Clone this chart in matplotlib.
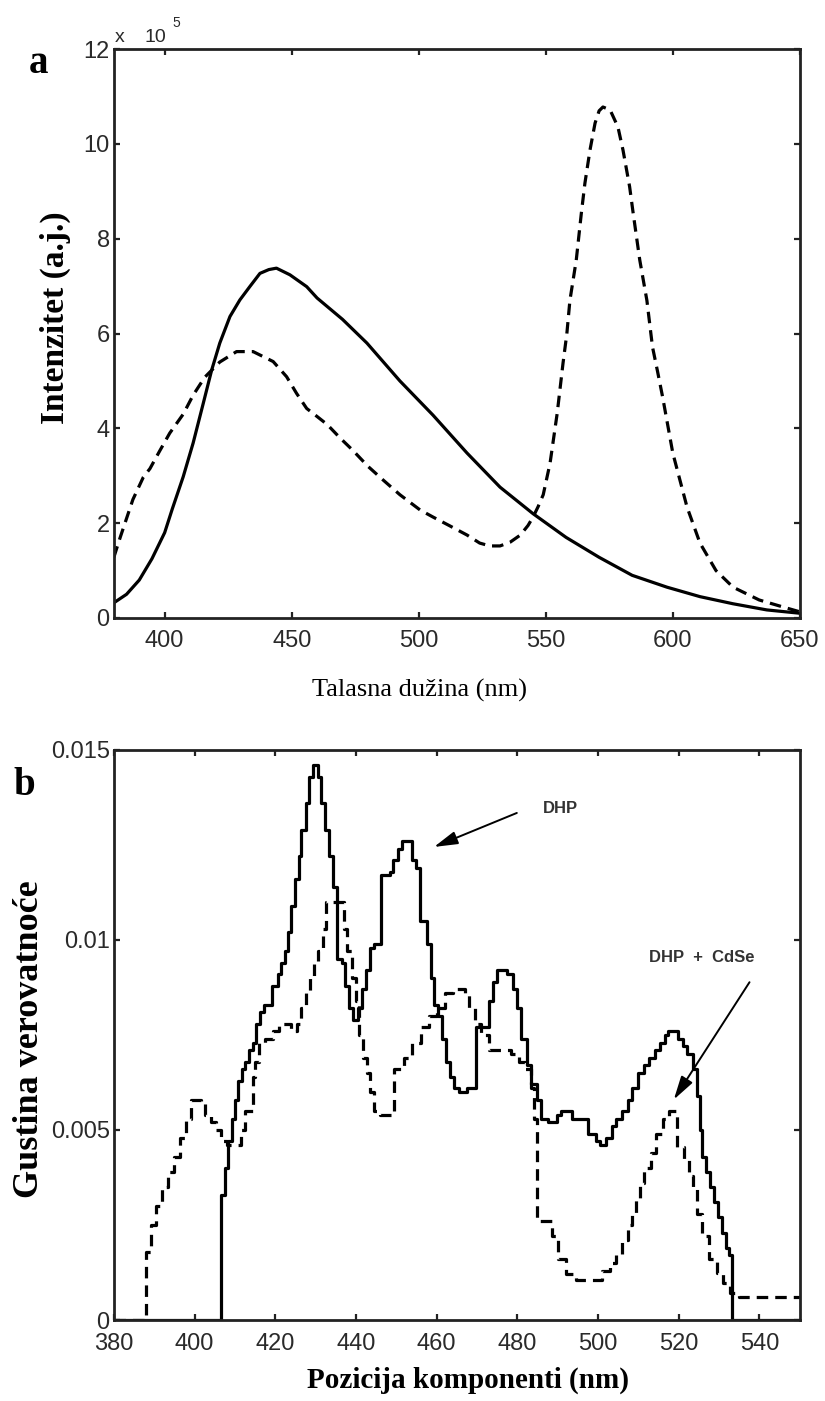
import matplotlib
matplotlib.use('Agg')
import matplotlib.pyplot as plt

# ---------------- Panel a data (intensity in units of 1e5) ----------------
wl_dhp = [380, 385, 390, 395, 400, 403, 407.3, 411.2, 415.2, 418.5, 421.7, 425.7,
          429.6, 433.5, 437.5, 441, 444, 449.3, 455.9, 460, 470, 479.6, 492.6, 505.6,
          519, 532, 545, 558, 571, 584, 597.7, 610.7, 623.7, 637, 650]
int_dhp = [0.32, 0.5, 0.8, 1.25, 1.8, 2.3, 2.98, 3.69, 4.53, 5.23, 5.8, 6.36,
           6.71, 6.99, 7.27, 7.35, 7.38, 7.24, 6.99, 6.75, 6.3, 5.8, 5.0, 4.28,
           3.48, 2.76, 2.2, 1.7, 1.28, 0.9, 0.65, 0.45, 0.3, 0.17, 0.1]

wl_cdse = [380, 382.5, 385, 387.5, 391.6, 394.2, 398, 402, 407.3, 411.2, 415.8, 421.7,
           428.3, 434.8, 442.7, 448, 451.9, 455.9, 460, 464, 469, 474, 480, 486, 492.6,
           500.5, 505.6, 512, 519, 524, 528, 532, 536, 540, 543, 545, 547, 549, 551.7,
           554.5, 556.8, 558.3, 559.5, 562, 564, 565.4, 567.4, 569.4, 571, 572.5, 575.3,
           578.4, 580.4, 583, 584.4, 587, 589.8, 592, 594, 596, 600, 605.6, 610.7, 617,
           623.7, 634, 643.5, 650]
int_cdse = [1.28, 1.7, 2.1, 2.5, 2.97, 3.15, 3.52, 3.9, 4.3, 4.7, 5.08, 5.4,
            5.62, 5.62, 5.41, 5.09, 4.74, 4.42, 4.25, 4.08, 3.8, 3.54, 3.2, 2.91, 2.6,
            2.28, 2.13, 1.95, 1.75, 1.58, 1.52, 1.52, 1.6, 1.75, 1.95, 2.13, 2.35, 2.6,
            3.27, 4.32, 5.38, 6.0, 6.7, 7.55, 8.54, 9.17, 9.87, 10.44, 10.7, 10.78,
            10.72, 10.36, 9.87, 9.1, 8.54, 7.55, 6.7, 5.72, 5.2, 4.66, 3.48, 2.34, 1.58,
            1.0, 0.65, 0.38, 0.23, 0.13]

xticks_a = [400, 450, 500, 550, 600, 650]
yticks_a = [0, 2, 4, 6, 8, 10, 12]

# ---------------- Panel b data (step histograms) ----------------
pos_dhp = [380, 406.5, 407.5, 408.3, 409.2, 410, 410.8, 411.7, 412.5, 413.5, 414.5,
           415.3, 416.3, 417.2, 419.3, 420.8, 421.5, 422.5, 423.2, 424, 424.8, 425.8,
           426.5, 427.5, 428.3, 429.3, 430.5, 431.3, 432.3, 433.3, 434.3, 435.2, 436.5,
           437.3, 438.2, 439.2, 440.5, 441.5, 442.5, 443.5, 444.5, 446.3, 448.5, 449.3,
           450.3, 451.3, 453.8, 455, 455.8, 457.7, 458.5, 459.3, 460.3, 461.3, 462.3,
           463.2, 464.2, 465.5, 467.5, 469.8, 473, 474, 475, 477.5, 478.8, 479.8, 481,
           482.3, 483.5, 484.8, 485.8, 487.5, 489.8, 490.8, 493.5, 497.5, 499.5, 500.5,
           502, 503.5, 504.5, 506, 507.5, 508.5, 510, 511.5, 512.7, 514, 515.3, 516.5,
           517.3, 519.8, 521, 522, 523.5, 524.5, 525.2, 525.8, 526.7, 527.7, 528.7,
           529.7, 530.7, 531.7, 532.5, 533.3, 550]
dens_dhp = [0, 0.0033, 0.0040, 0.0047, 0.0053, 0.0058, 0.0063, 0.0066, 0.0068, 0.0071,
            0.0073, 0.0078, 0.0081, 0.0083, 0.0088, 0.0091, 0.0094, 0.0097, 0.0102,
            0.0109, 0.0116, 0.0122, 0.0129, 0.0136, 0.0143, 0.0146, 0.0143, 0.0136,
            0.0129, 0.0122, 0.0114, 0.0095, 0.0094, 0.0088, 0.0082, 0.0079, 0.0082,
            0.0087, 0.0092, 0.0098, 0.0099, 0.0117, 0.0118, 0.0121, 0.0124, 0.0126,
            0.0121, 0.0119, 0.0105, 0.0099, 0.0090, 0.0083, 0.0080, 0.0074, 0.0068,
            0.0064, 0.0061, 0.0060, 0.0061, 0.0077, 0.0084, 0.0089, 0.0092, 0.0091,
            0.0087, 0.0082, 0.0074, 0.0067, 0.0062, 0.0058, 0.0053, 0.0052, 0.0054,
            0.0055, 0.0053, 0.0049, 0.0047, 0.0046, 0.0048, 0.0051, 0.0053, 0.0055,
            0.0058, 0.0061, 0.0065, 0.0067, 0.0069, 0.0071, 0.0073, 0.0075, 0.0076,
            0.0074, 0.0072, 0.0070, 0.0066, 0.0059, 0.0050, 0.0043, 0.0039, 0.0035,
            0.0031, 0.0027, 0.0023, 0.0019, 0.0017, 0, 0]

pos_cdse = [380, 388, 389.2, 390.5, 392, 393.5, 395, 396.5, 397.8, 399, 401.5, 402.5,
            404, 405.2, 406.5, 408, 411.5, 412.5, 414.4, 415, 416, 417.5, 419.5, 421,
            424, 425.5, 426.5, 427.5, 428.5, 429.5, 430.5, 431.8, 432.5, 437, 437.8,
            439, 440, 440.8, 441.8, 442.7, 443.5, 444.5, 446, 449.5, 452, 454, 456, 458,
            460, 462, 464, 467, 468, 469.5, 471, 473, 478.5, 480.5, 482, 483.3, 484.2,
            484.8, 488.7, 490, 492, 494.5, 501, 503, 504.5, 506, 507.5, 508.5, 509.5,
            510.5, 511.5, 513, 514.3, 516, 517.7, 519.6, 521.3, 522.5, 523.5, 524.5,
            525.8, 527.5, 529.5, 531, 532.7, 535, 550]
dens_cdse = [0, 0.0018, 0.0025, 0.0030, 0.0035, 0.0039, 0.0043, 0.0048, 0.0053, 0.0058,
             0.0057, 0.0054, 0.0052, 0.0050, 0.0047, 0.0046, 0.0050, 0.0055, 0.0064,
             0.0068, 0.0073, 0.0074, 0.0076, 0.0078, 0.0076, 0.0078, 0.0082, 0.0086,
             0.0090, 0.0094, 0.0097, 0.0103, 0.0110, 0.0103, 0.0097, 0.0090, 0.0084,
             0.0075, 0.0069, 0.0065, 0.0060, 0.0055, 0.0054, 0.0066, 0.0069, 0.0073,
             0.0077, 0.0080, 0.0082, 0.0086, 0.0087, 0.0086, 0.0082, 0.0078, 0.0075,
             0.0071, 0.0070, 0.0068, 0.0066, 0.0061, 0.0053, 0.0026, 0.0022, 0.0016,
             0.0012, 0.00105, 0.0013, 0.0015, 0.0017, 0.0021, 0.0025, 0.0028, 0.0032,
             0.0036, 0.0040, 0.0044, 0.0049, 0.0053, 0.0055, 0.00455, 0.0042, 0.0038,
             0.0035, 0.0028, 0.0022, 0.0016, 0.00124, 0.00097, 0.0007, 0.0006, 0.0006]

xticks_b = [380, 400, 420, 440, 460, 480, 500, 520, 540]
yticks_b = [0, 0.005, 0.01, 0.015]
yticklabels_b = ['0', '0.005', '0.01', '0.015']

# ---------------- Figure ----------------
SERIF = ['Liberation Serif', 'DejaVu Serif']
SANS = ['Liberation Sans', 'DejaVu Sans']
TICKC = '#2a2a2a'

fig = plt.figure(figsize=(8.25, 14.01), dpi=100)
axa = fig.add_axes([0.138, 0.5589, 0.8315, 0.406])
axb = fig.add_axes([0.138, 0.0578, 0.8315, 0.4069])


def style(ax):
    for s in ax.spines.values():
        s.set_linewidth(2.0)
        s.set_color('#222222')
    ax.tick_params(direction='in', length=4, width=1.6, top=True, right=True,
                   colors='#222222', labelcolor=TICKC, labelsize=17)
    ax.tick_params(axis='x', pad=9)
    ax.tick_params(axis='y', pad=3)
    for lab in ax.get_xticklabels() + ax.get_yticklabels():
        lab.set_family(SANS)


dash = (0, (3.6, 2.2))

# Panel a
axa.plot(wl_dhp, int_dhp, color='black', lw=2.3, solid_joinstyle='round')
axa.plot(wl_cdse, int_cdse, color='black', lw=2.3, linestyle=dash)
axa.set_xlim(380, 650)
axa.set_ylim(0, 12)
axa.set_xticks(xticks_a)
axa.set_yticks(yticks_a)
style(axa)

# Panel b
axb.step(pos_dhp, dens_dhp, where='post', color='black', lw=2.3)
axb.step(pos_cdse, dens_cdse, where='post', color='black', lw=2.3, linestyle=dash)
axb.set_xlim(380, 550)
axb.set_ylim(0, 0.015)
axb.set_xticks(xticks_b)
axb.set_yticks(yticks_b)
axb.set_yticklabels(yticklabels_b)
style(axb)

axb.annotate('', xy=(458.7, 0.01242), xytext=(480.5, 0.01337),
             arrowprops=dict(arrowstyle='-|>,head_length=0.9,head_width=0.25',
                             color='black', lw=1.4, mutation_scale=16))
axb.annotate('', xy=(518.4, 0.00574), xytext=(537.9, 0.00895),
             arrowprops=dict(arrowstyle='-|>,head_length=0.9,head_width=0.25',
                             color='black', lw=1.4, mutation_scale=16))
axb.text(486.2, 0.01347, 'DHP', family=SANS, fontsize=12, color='#333333',
         fontweight='bold', va='center', ha='left')
axb.text(512.7, 0.00955, 'DHP  +  CdSe', family=SANS, fontsize=12, color='#333333',
         fontweight='bold', va='center', ha='left')

# Axis labels and panel letters
fig.text(0.067, 0.773, 'Intenzitet (a.j.)', family=SERIF, fontsize=24, fontweight='bold',
         rotation=90, ha='center', va='center')
fig.text(0.509, 0.507, 'Talasna dužina (nm)', family=SERIF, fontsize=19,
         ha='center', va='center')
fig.text(0.036, 0.258, 'Gustina verovatnoće', family=SERIF, fontsize=26, fontweight='bold',
         rotation=90, ha='center', va='center')
fig.text(0.567, 0.015, 'Pozicija komponenti (nm)', family=SERIF, fontsize=21,
         fontweight='bold', ha='center', va='center')
fig.text(0.047, 0.955, 'a', family=SERIF, fontsize=28, fontweight='bold',
         ha='center', va='center')
fig.text(0.030, 0.439, 'b', family=SERIF, fontsize=28, fontweight='bold',
         ha='center', va='center')

# exponent marker of panel a
fig.text(115 / 825, 1 - 42 / 1401, 'x', family=SANS, fontsize=14, color=TICKC,
         ha='left', va='baseline')
fig.text(145 / 825, 1 - 42 / 1401, '10', family=SANS, fontsize=14, color=TICKC,
         ha='left', va='baseline')
fig.text(172 / 825, 1 - 27 / 1401, '5', family=SANS, fontsize=10, color=TICKC,
         ha='left', va='baseline')

fig.savefig('out.png', dpi=100)
